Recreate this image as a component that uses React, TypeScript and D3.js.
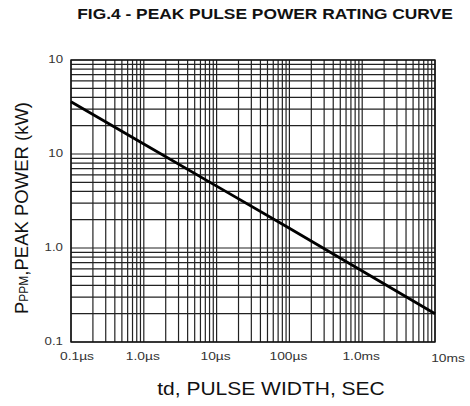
import * as d3 from "d3";
import { useEffect, useRef } from "react";

// pulse width (seconds) vs peak pulse power (kW)
const pulseWidth = [1e-7, 1e-6, 1e-5, 1e-4, 1e-3, 1e-2];
const peakPower = [36, 12.8, 4.55, 1.62, 0.57, 0.2];

const xTickValues = [1e-7, 1e-6, 1e-5, 1e-4, 1e-3, 1e-2];
const xTickLabels = ["0.1\u00b5s", "1.0\u00b5s", "10\u00b5s", "100\u00b5s", "1.0ms", "10ms"];
const yTickValues = [100, 10, 1, 0.1];
const yTickLabels = ["10", "10", "1.0", "0.1"];

const title = "FIG.4 - PEAK PULSE POWER RATING CURVE";
const xTitle = "td, PULSE WIDTH, SEC";

export default function App() {
    const svgRef = useRef<SVGSVGElement>(null);

    const width = 470,
        height = 406,
        margin = { top: 60, right: 35, bottom: 64, left: 71 };

    useEffect(() => {
        const svg = d3.select(svgRef.current);
        svg.selectAll("*").remove();

        const x = d3.scaleLog().domain([1e-7, 1e-2]).range([margin.left, width - margin.right]);
        const y = d3.scaleLog().domain([0.1, 100]).range([height - margin.bottom, margin.top]);

        const font = "'Liberation Sans', Arial, sans-serif";

        // the scanned figure is a bit wider than the font, so stretch text horizontally
        const stretch = (sel: any, k: number) => {
            sel.each(function (this: SVGTextElement) {
                const w = this.getComputedTextLength();
                d3.select(this)
                    .attr("textLength", w * k)
                    .attr("lengthAdjust", "spacingAndGlyphs");
            });
        };

        // title
        svg.append("text")
            .attr("x", 265)
            .attr("y", 19)
            .attr("text-anchor", "middle")
            .style("font-family", font)
            .style("font-weight", "bold")
            .style("font-size", "14px")
            .attr("fill", "#111")
            .text(title)
            .call(stretch, 1.24);

        const grid = svg.append("g")
            .attr("stroke", "#222")
            .attr("stroke-width", 1.2);

        // vertical grid: 1..9 in every decade
        const xGrid = x.ticks(50).filter(d => d >= 1e-7 && d <= 1e-2);
        grid.selectAll(".vx")
            .data(xGrid)
            .enter().append("line")
            .attr("x1", d => x(d))
            .attr("x2", d => x(d))
            .attr("y1", y(100))
            .attr("y2", y(0.1));

        const yGrid = y.ticks(50).filter(d => d >= 0.1 && d <= 100);
        grid.selectAll(".hy")
            .data(yGrid)
            .enter().append("line")
            .attr("x1", x(1e-7))
            .attr("x2", x(1e-2))
            .attr("y1", d => y(d))
            .attr("y2", d => y(d));

        // frame
        svg.append("rect")
            .attr("x", x(1e-7))
            .attr("y", y(100))
            .attr("width", x(1e-2) - x(1e-7))
            .attr("height", y(0.1) - y(100))
            .attr("fill", "none")
            .attr("stroke", "#111")
            .attr("stroke-width", 1.4);

        // rating curve
        const line = d3.line<number>()
            .x((d, i) => x(pulseWidth[i]))
            .y(d => y(d));

        svg.append("path")
            .datum(peakPower)
            .attr("d", line)
            .attr("fill", "none")
            .attr("stroke", "#000")
            .attr("stroke-width", 2.8);

        // x tick labels
        const last = xTickValues.length - 1;
        svg.selectAll(".xl")
            .data(xTickValues)
            .enter().append("text")
            .attr("x", (d, i) => x(d) + (i === 0 ? 6 : i === last ? 13 : -1))
            .attr("y", (d, i) => (i === last ? 362 : 360))
            .attr("text-anchor", "middle")
            .style("font-family", font)
            .style("font-size", "11.5px")
            .attr("fill", "#333")
            .text((d, i) => xTickLabels[i])
            .call(stretch, 1.2);

        // y tick labels
        svg.selectAll(".yl")
            .data(yTickValues)
            .enter().append("text")
            .attr("x", 63)
            .attr("y", d => y(d) + 3)
            .attr("text-anchor", "end")
            .style("font-family", font)
            .style("font-size", "11.5px")
            .attr("fill", "#333")
            .text((d, i) => yTickLabels[i])
            .call(stretch, 1.15);

        // x title
        svg.append("text")
            .attr("x", 271)
            .attr("y", 395)
            .attr("text-anchor", "middle")
            .style("font-family", font)
            .style("font-size", "17.5px")
            .attr("fill", "#111")
            .text(xTitle)
            .call(stretch, 1.2);

        // y title with subscript
        const yt = svg.append("text")
            .attr("transform", `translate(28, 208) rotate(-90)`)
            .attr("text-anchor", "middle")
            .style("font-family", font)
            .style("font-size", "18.5px")
            .attr("fill", "#111");
        yt.append("tspan").text("P");
        yt.append("tspan").style("font-size", "12px").text("PPM");
        yt.append("tspan").text(",PEAK POWER (kW)");
    }, []);

    return (
        <svg
            ref={svgRef}
            width={width}
            height={height}
            style={{ position: "absolute", left: 0, top: 0, background: "#fff" }}
        />
    );
}
